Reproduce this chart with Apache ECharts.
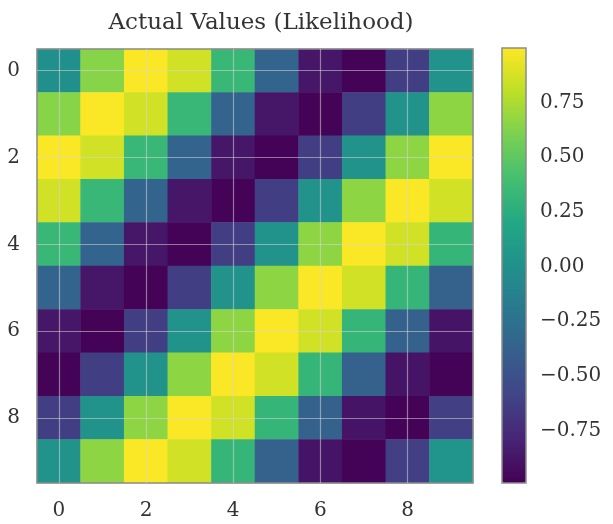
<!DOCTYPE html>
<html>
<head>
<meta charset="utf-8">
<script src="https://cdn.jsdelivr.net/npm/echarts@6/dist/echarts.min.js"></script>
<style>html,body{margin:0;padding:0;background:#fff}#c{width:613px;height:524px}</style>
</head>
<body>
<div id="c"></div>
<script>
const titleText = 'Actual Values (Likelihood)';
const xCategories = ['0','1','2','3','4','5','6','7','8','9'];
const yCategories = ['0','1','2','3','4','5','6','7','8','9'];
const row0 = [0.00, 0.64, 0.99, 0.86, 0.33, -0.35, -0.87, -0.98, -0.63, 0.02];
const row1 = [0.64, 0.99, 0.86, 0.33, -0.35, -0.87, -0.98, -0.63, 0.02, 0.66];
const row2 = [0.99, 0.86, 0.33, -0.35, -0.87, -0.98, -0.63, 0.02, 0.66, 0.99];
const row3 = [0.86, 0.33, -0.35, -0.87, -0.98, -0.63, 0.02, 0.66, 0.99, 0.86];
const row4 = [0.33, -0.35, -0.87, -0.98, -0.63, 0.02, 0.66, 0.99, 0.86, 0.32];
const row5 = [-0.35, -0.87, -0.98, -0.63, 0.02, 0.66, 0.99, 0.86, 0.32, -0.37];
const row6 = [-0.87, -0.98, -0.63, 0.02, 0.66, 0.99, 0.86, 0.32, -0.37, -0.88];
const row7 = [-0.98, -0.63, 0.02, 0.66, 0.99, 0.86, 0.32, -0.37, -0.88, -0.98];
const row8 = [-0.63, 0.02, 0.66, 0.99, 0.86, 0.32, -0.37, -0.88, -0.98, -0.62];
const row9 = [0.02, 0.66, 0.99, 0.86, 0.32, -0.37, -0.88, -0.98, -0.62, 0.03];
const rows = [row0,row1,row2,row3,row4,row5,row6,row7,row8,row9];
const gridTicks = ['0','2','4','6','8'];
const colorbarTicks = [-0.75, -0.5, -0.25, 0, 0.25, 0.5, 0.75];
const colorMin = -0.99;
const colorMax = 1.0;
const viridis = ['#440154','#482475','#414487','#355f8d','#2a788e','#21918c','#22a884','#44bf70','#7ad151','#bddf26','#fde725'];

const heatData = [];
rows.forEach((r, yi) => r.forEach((v, xi) => heatData.push([xi, yi, v])));

const FONT = 'DejaVu Serif';
const TXT = '#333333';
const BORDER = '#8c8c8c';

const chart = echarts.init(document.getElementById('c'), null, {renderer: 'canvas'});
chart.setOption({
  animation: false,
  backgroundColor: '#ffffff',
  title: {
    text: titleText, left: 256, top: 7, textAlign: 'center',
    textStyle: {fontFamily: FONT, fontSize: 23, fontWeight: 'normal', color: TXT}
  },
  grid: [
    {left: 37, right: 140, top: 49, bottom: 41, show: true, z: 5, backgroundColor: 'transparent', borderColor: BORDER, borderWidth: 1.5},
    {left: 502, width: 24, top: 48, bottom: 41, show: true, z: 6, backgroundColor: 'transparent', borderColor: BORDER, borderWidth: 1.5}
  ],
  xAxis: [
    {type: 'category', data: xCategories, gridIndex: 0, splitArea: {show: false},
     axisLine: {show: false}, axisTick: {show: false}, splitLine: {show: false},
     axisLabel: {interval: 1, margin: 18, fontFamily: FONT, fontSize: 20, color: TXT}},
    {type: 'value', gridIndex: 1, show: false, min: 0, max: 1}
  ],
  yAxis: [
    {type: 'category', data: yCategories, gridIndex: 0, inverse: true,
     axisLine: {show: false}, axisTick: {show: false}, splitLine: {show: false},
     axisLabel: {interval: 1, margin: 17, fontFamily: FONT, fontSize: 20, color: TXT}},
    {type: 'value', gridIndex: 1, position: 'right', min: colorMin, max: colorMax,
     axisLine: {show: false}, axisTick: {show: false}, splitLine: {show: false},
     axisLabel: {customValues: colorbarTicks, margin: 14, fontFamily: FONT, fontSize: 20, color: TXT,
       formatter: v => v.toFixed(2).replace('-', '\u2212')}}
  ],
  visualMap: {
    type: 'continuous', min: colorMin, max: colorMax, seriesIndex: 0,
    orient: 'vertical', left: 502, top: 48, itemWidth: 24, itemHeight: 435,
    padding: 0, text: null, showLabel: false, calculable: false, hoverLink: false,
    inRange: {color: viridis}
  },
  series: [
    {type: 'heatmap', xAxisIndex: 0, yAxisIndex: 0, data: heatData,
     emphasis: {disabled: true},
     markLine: {silent: true, symbol: 'none', animation: false,
       label: {show: false},
       lineStyle: {color: 'rgba(215,215,215,0.55)', width: 1.2, type: 'solid'},
       data: gridTicks.map(t => ({xAxis: t})).concat(gridTicks.map(t => ({yAxis: t})))}},
    {type: 'scatter', xAxisIndex: 1, yAxisIndex: 1, data: [], silent: true}
  ]
});
</script>
</body>
</html>
